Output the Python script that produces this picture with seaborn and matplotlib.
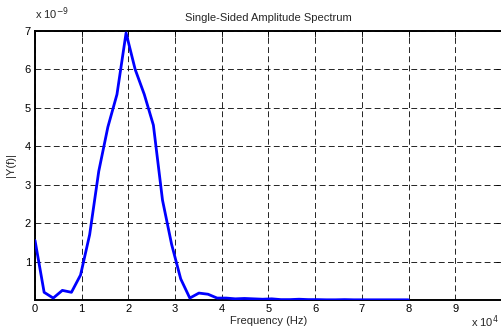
import matplotlib
matplotlib.use("Agg")
import matplotlib.pyplot as plt
import seaborn as sns
import numpy as np
import pandas as pd

# Frequency in units of 1e4 Hz, amplitude in units of 1e-9
freq = [0.0, 0.195, 0.39, 0.585, 0.78, 0.975, 1.17, 1.365, 1.56, 1.755,
        1.95, 2.145, 2.34, 2.535, 2.73, 2.925, 3.12, 3.315, 3.51, 3.705,
        3.9, 4.095, 4.29, 4.485, 4.68, 4.875, 5.07, 5.265, 5.46, 5.655,
        5.85, 6.045, 6.24, 6.435, 6.63, 6.825, 7.02, 7.215, 7.41, 7.605,
        7.8, 7.995]
amp = [1.55, 0.2, 0.05, 0.25, 0.2, 0.65, 1.7, 3.35, 4.5, 5.35,
       6.95, 6.0, 5.35, 4.55, 2.6, 1.45, 0.55, 0.05, 0.18, 0.15,
       0.05, 0.05, 0.03, 0.04, 0.03, 0.02, 0.03, 0.01, 0.01, 0.02,
       0.01, 0.01, 0.005, 0.005, 0.01, 0.005, 0.005, 0.005, 0.005, 0.005,
       0.005, 0.005]
xticks = [0, 1, 2, 3, 4, 5, 6, 7, 8, 9, 10]
xticklabels = ["0", "1", "2", "3", "4", "5", "6", "7", "8", "9", ""]
yticks = [1, 2, 3, 4, 5, 6, 7]

sns.set_style("white")
plt.rcParams['font.family'] = ['Liberation Sans', 'DejaVu Sans']
plt.rcParams['font.size'] = 8

fig = plt.figure(figsize=(5.01, 3.35), dpi=100)
ax = fig.add_axes([0.0699, 0.1045, 0.932, 0.803])

df = pd.DataFrame({"f": freq, "a": amp})
sns.lineplot(data=df, x="f", y="a", ax=ax, color=(0, 0, 1), linewidth=2, zorder=3)

ax.set_xlim(0, 10)
ax.set_ylim(0, 7)
ax.set_xticks(xticks)
ax.set_xticklabels(xticklabels)
ax.set_yticks(yticks)
ax.set_yticklabels([str(t) for t in yticks])
ax.grid(True, color='black', linestyle=(0, (7, 4)), linewidth=0.6)
for s in ax.spines.values():
    s.set_color('black')
    s.set_linewidth(1.4)
ax.tick_params(direction='in', length=4, width=0.6, colors='black',
               top=True, right=True, labelsize=8, pad=3)
ax.set_xlabel("Frequency (Hz)", fontsize=8, labelpad=1)
ax.set_ylabel("|Y(f)|", fontsize=8, labelpad=6)
ax.set_title("Single-Sided Amplitude Spectrum", fontsize=8, pad=7)

fig.text(0.07, 0.935, r"x 10$^{-9}$", fontsize=8, ha='left', va='bottom')
fig.text(0.94, 0.015, r"x 10$^{4}$", fontsize=8, ha='left', va='bottom')

fig.savefig("out.png", dpi=100)
